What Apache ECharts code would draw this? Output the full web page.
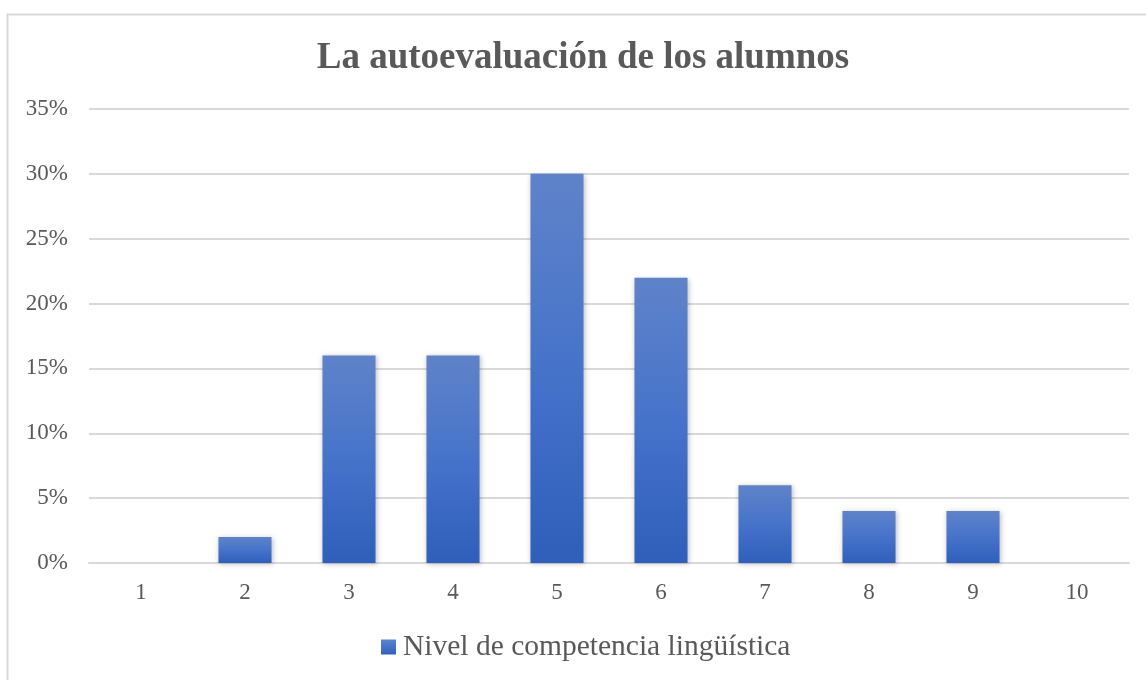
<!DOCTYPE html>
<html>
<head>
<meta charset="utf-8">
<script src="https://cdn.jsdelivr.net/npm/echarts@6/dist/echarts.min.js"></script>
<style>
  html, body { margin: 0; padding: 0; background: #fff; }
  #main { width: 1146px; height: 680px; }
</style>
</head>
<body>
<div id="main"></div>
<script>
// datos
var niveles = ['1', '2', '3', '4', '5', '6', '7', '8', '9', '10'];
var porcentajes = [0, 2, 16, 16, 30, 22, 6, 4, 4, 0];
var serieNombre = 'Nivel de competencia lingüística';
var titulo = 'La autoevaluación de los alumnos';

var myChart = echarts.init(document.getElementById('main'), null, {renderer: 'canvas'});
var fuente = '"Liberation Serif", "Times New Roman", serif';
var gris = '#595959';

var option = {
    animation: false,
    graphic: [{
        type: 'rect',
        shape: {x: 7.5, y: 14.5, width: 1160, height: 700},
        style: {fill: 'none', stroke: '#d9d9d9', lineWidth: 2},
        silent: true
    }],
    title: {
        text: titulo,
        left: 578,
        top: 35,
        textAlign: 'center',
        textStyle: {
            fontFamily: fuente,
            fontSize: 37,
            fontWeight: 'bold',
            color: gris
        }
    },
    legend: {
        data: [serieNombre],
        left: 376,
        top: 627,
        icon: 'rect',
        itemWidth: 15,
        itemHeight: 15,
        itemGap: 6,
        textStyle: {
            fontFamily: fuente,
            fontSize: 29.5,
            color: gris,
            padding: [0, 0, 0, 2]
        }
    },
    grid: {
        left: 89,
        right: 17,
        top: 109,
        bottom: 117,
        containLabel: false
    },
    xAxis: {
        type: 'category',
        data: niveles,
        axisLine: {lineStyle: {color: '#d9d9d9', width: 2}},
        axisTick: {show: false},
        axisLabel: {
            margin: 18,
            fontFamily: fuente,
            fontSize: 23,
            color: gris
        }
    },
    yAxis: {
        type: 'value',
        min: 0,
        max: 35,
        interval: 5,
        axisLine: {show: false},
        axisTick: {show: false},
        splitLine: {lineStyle: {color: '#d9d9d9', width: 2}},
        axisLabel: {
            margin: 21,
            formatter: '{value}%',
            fontFamily: fuente,
            fontSize: 23,
            color: gris
        }
    },
    series: [{
        name: serieNombre,
        type: 'bar',
        data: porcentajes,
        barWidth: '51%',
        itemStyle: {
            color: new echarts.graphic.LinearGradient(0, 0, 0, 1, [
                {offset: 0, color: '#5f83c9'},
                {offset: 0.5, color: '#4673ca'},
                {offset: 1, color: '#2f5fba'}
            ]),
            shadowColor: 'rgba(0,0,0,0.25)',
            shadowBlur: 5,
            shadowOffsetX: 1,
            shadowOffsetY: 1
        }
    }]
};
myChart.setOption(option);
</script>
</body>
</html>
